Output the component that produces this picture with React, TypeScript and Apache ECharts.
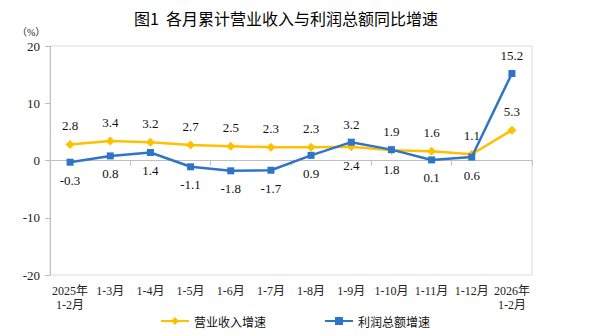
import React, { useEffect, useRef } from "react";
import * as echarts from "echarts";

const categories = ["2025年\n1-2月", "1-3月", "1-4月", "1-5月", "1-6月", "1-7月", "1-8月", "1-9月", "1-10月", "1-11月", "1-12月", "2026年\n1-2月"];
const revenueGrowth = [2.8, 3.4, 3.2, 2.7, 2.5, 2.3, 2.3, 2.4, 1.8, 1.6, 1.1, 5.3];
const profitGrowth = [-0.3, 0.8, 1.4, -1.1, -1.8, -1.7, 0.9, 3.2, 1.9, 0.1, 0.6, 15.2];
const revenueLabelBelow = [7, 8];
const profitLabelAbove = [7, 8, 11];
const yTicks = { min: -20, max: 20, interval: 10 };

const SERIF = "'Liberation Serif', 'Noto Sans CJK SC', serif";
const CJK = "'Noto Sans CJK SC', sans-serif";

export default function App() {
  const ref = useRef<HTMLDivElement>(null);
  useEffect(() => {
    const chart = echarts.init(ref.current!, null, { renderer: "svg" });
    const labelStyle = { fontFamily: SERIF, fontSize: 13, color: "#111" };
    chart.setOption({
      animation: false,
      title: {
        text: "图1  各月累计营业收入与利润总额同比增速",
        top: 10,
        left: 134,
        padding: [0, 0, 0, 0],
        textStyle: { fontFamily: CJK, fontSize: 16, fontWeight: "normal", color: "#000" },
      },
      graphic: [
        {
          type: "text",
          left: 17,
          top: 27,
          style: { text: "（%）", fontFamily: SERIF, fontSize: 10, fill: "#222" },
        },
      ],
      legend: {
        bottom: 4,
        left: 155,
        padding: [5, 5, 5, 5],
        itemGap: 58,
        itemWidth: 28,
        itemHeight: 10,
        textStyle: { fontFamily: CJK, fontSize: 12, color: "#111" },
        data: ["营业收入增速", "利润总额增速"],
      },
      grid: {
        left: 50,
        right: 57,
        top: 46,
        bottom: 61,
        show: true,
        borderColor: "#d9d9d9",
        borderWidth: 1,
      },
      xAxis: [
        {
          type: "category",
          data: categories,
          position: "bottom",
          axisLine: { show: false, onZero: false },
          axisTick: { show: false },
          axisLabel: {
            interval: 0,
            margin: 9,
            fontFamily: SERIF,
            fontSize: 12,
            color: "#222",
            lineHeight: 14,
            verticalAlign: "top",
          },
        },
        {
          type: "category",
          data: categories,
          position: "top",
          axisLine: { show: true, onZero: true, lineStyle: { color: "#bfbfbf", width: 1 } },
          axisTick: { show: true, inside: true, length: 5, lineStyle: { color: "#bfbfbf" } },
          axisLabel: { show: false },
        },
      ],
      yAxis: {
        type: "value",
        min: yTicks.min,
        max: yTicks.max,
        interval: yTicks.interval,
        axisLine: { show: true, lineStyle: { color: "#bfbfbf" } },
        axisTick: { show: true, length: 5, lineStyle: { color: "#bfbfbf" } },
        splitLine: { show: false },
        axisLabel: { fontFamily: SERIF, fontSize: 13, color: "#222", margin: 10 },
      },
      series: [
        {
          name: "营业收入增速",
          type: "line",
          data: revenueGrowth.map((v, i) => ({
            value: v,
            label: { position: revenueLabelBelow.includes(i) ? "bottom" : "top" },
          })),
          color: "#FFC000",
          lineStyle: { width: 2.5, color: "#FFC000" },
          symbol: "diamond",
          symbolSize: 9,
          itemStyle: { color: "#FFC000" },
          label: { show: true, distance: 8, ...labelStyle },
          z: 2,
        },
        {
          name: "利润总额增速",
          type: "line",
          data: profitGrowth.map((v, i) => ({
            value: v,
            label: { position: profitLabelAbove.includes(i) ? "top" : "bottom" },
          })),
          color: "#2E75C8",
          lineStyle: { width: 2.5, color: "#2E75C8" },
          symbol: "rect",
          symbolSize: 7,
          itemStyle: { color: "#2E75C8" },
          label: { show: true, distance: 8, ...labelStyle },
          z: 3,
        },
      ],
    });
    return () => chart.dispose();
  }, []);
  return <div ref={ref} style={{ width: 589, height: 336, position: "absolute", left: 0, top: 0 }} />;
}
